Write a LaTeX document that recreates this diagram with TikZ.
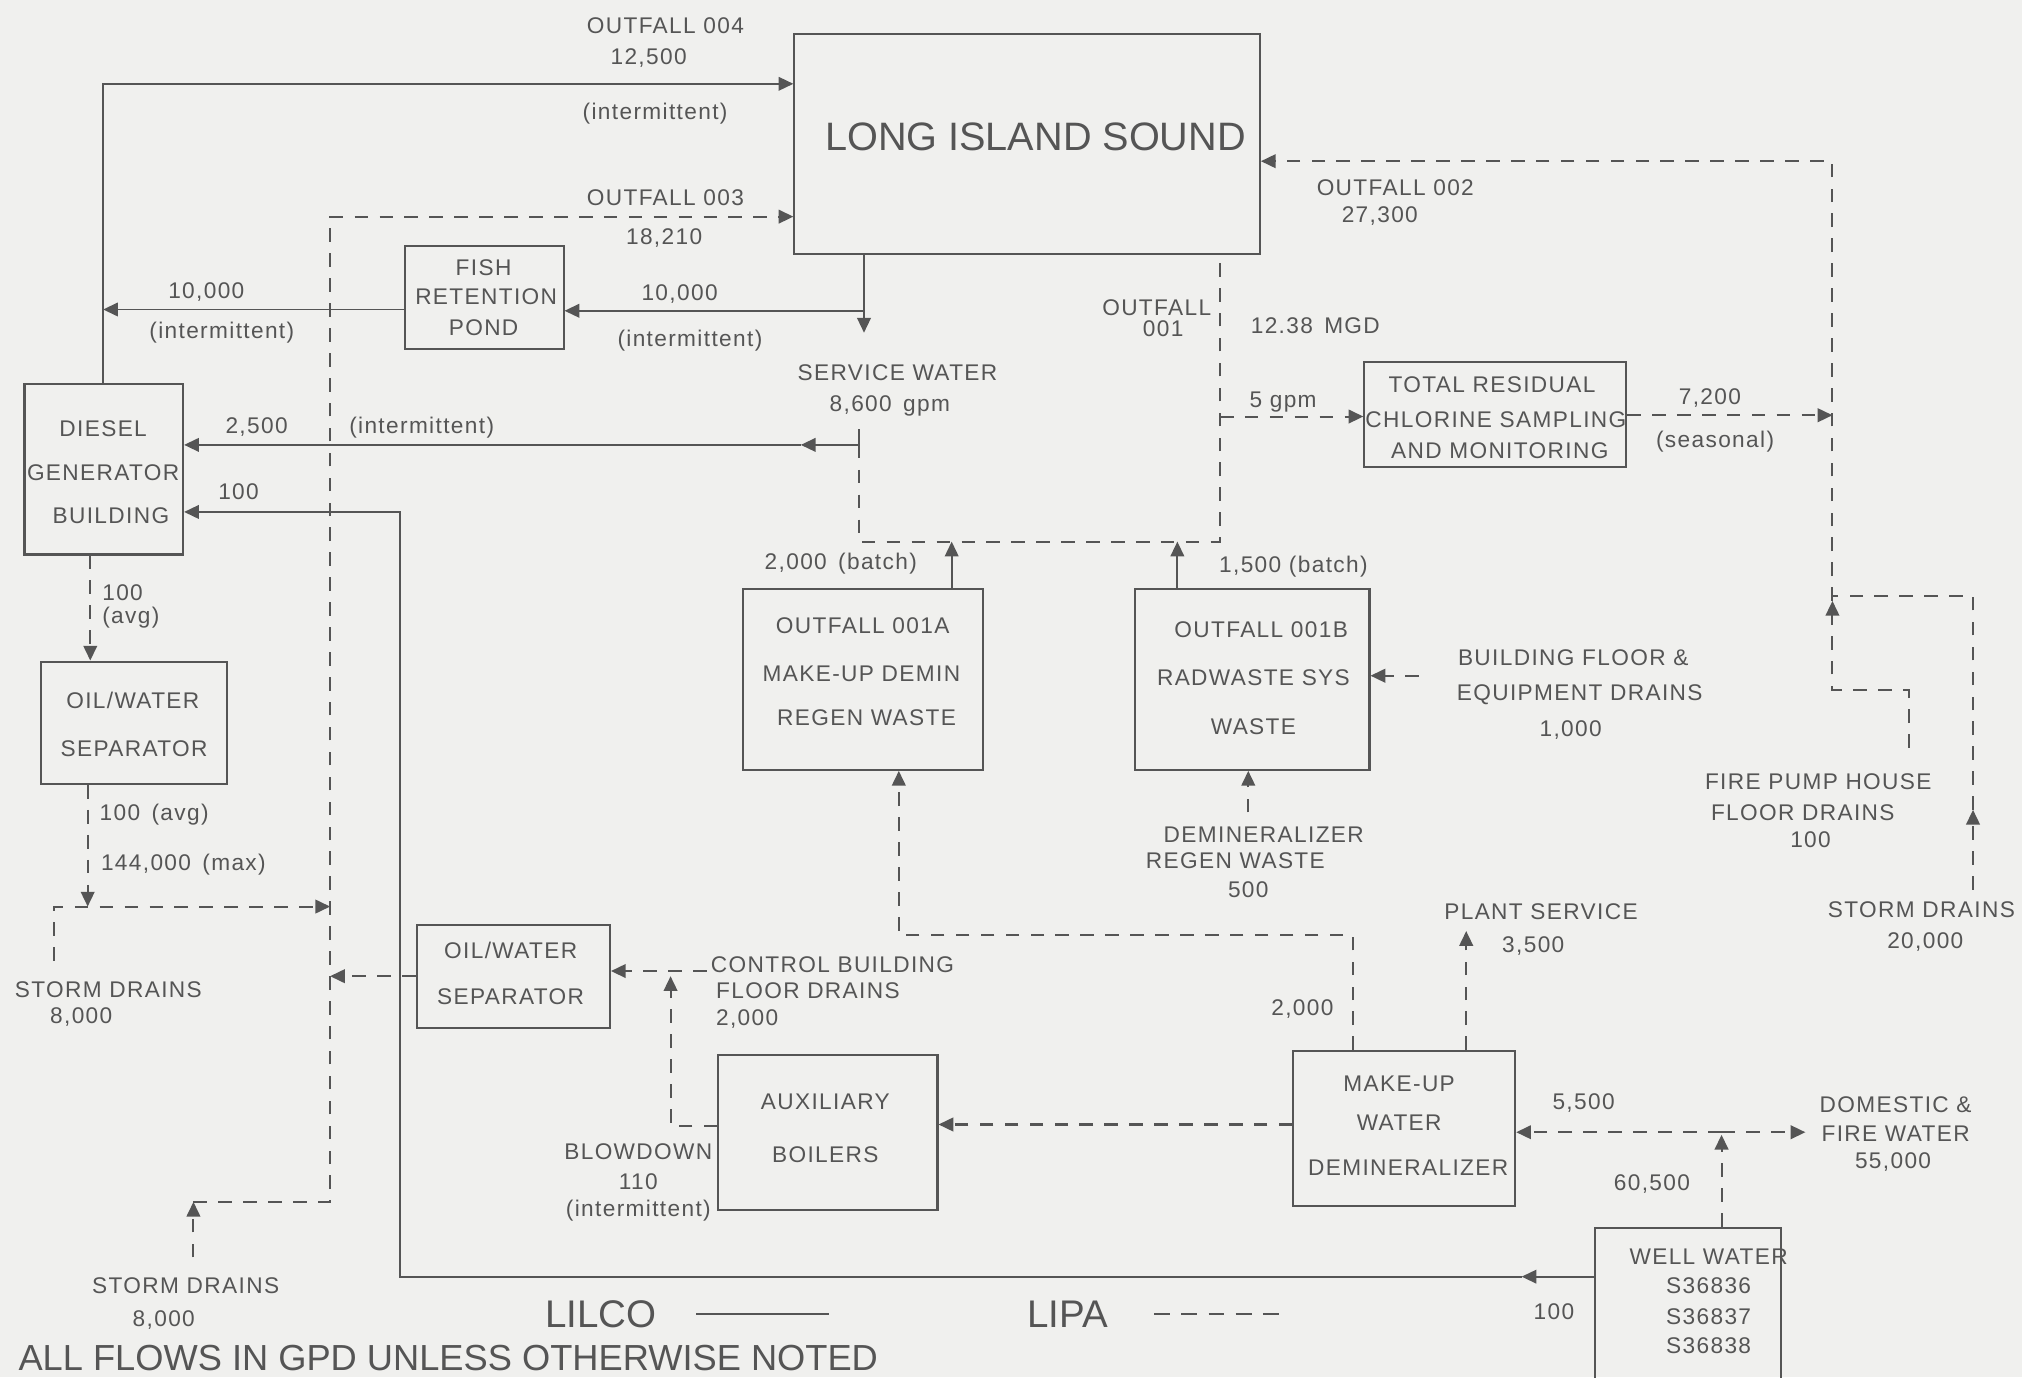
\documentclass[tikz,border=0pt]{standalone}
\usepackage{fontspec}
\setmainfont{Liberation Sans}[LetterSpace=6]
\newfontfamily\bigfont{Liberation Sans}
\usetikzlibrary{arrows.meta,fit}
\definecolor{bg}{RGB}{240,240,238}
\definecolor{ink}{RGB}{85,85,85}
\begin{document}
\begin{tikzpicture}[x=0.02cm,y=-0.02cm,
  box/.style={draw=ink, line width=0.9pt, inner sep=0pt},
  lbl/.style={text=ink, inner sep=0pt, anchor=center, font=\fontsize{10}{12}\selectfont, text height=7.2pt, text depth=0pt},
  lbw/.style={lbl, anchor=west},
  lilco/.style={draw=ink, line width=0.8pt},
  lipa/.style={draw=ink, line width=0.9pt, dash pattern=on 6pt off 5pt},
  arr/.style={-{Triangle[length=6.5pt,width=6pt]}},
  big/.style={text=ink, inner sep=0pt, font=\bigfont\fontsize{17}{20}\selectfont}]
\useasboundingbox (0,0) rectangle (1568,1068);
\fill[bg] (0,0) rectangle (1568,1068);
\clip (0,0) rectangle (1568,1068);

% ---------- boxes ----------
\node[box, fit={(616,26) (977,197)}] (lis) {};
\node[box, fit={(314,191) (437,271)}] (fish) {};
\node[box, fit={(19,298) (142,430)}] (diesel) {};
\node[box, fit={(32,513) (176,608)}] (ows1) {};
\node[box, fit={(1058,281) (1261,362)}] (trc) {};
\node[box, fit={(576,457) (762,597)}] (o1a) {};
\node[box, fit={(880,457) (1062,597)}] (o1b) {};
\node[box, fit={(323,717) (473,797)}] (ows2) {};
\node[box, fit={(557,818) (727,938)}] (aux) {};
\node[box, fit={(1003,815) (1175,935)}] (mud) {};
\node[box, fit={(1237,952) (1381,1080)}] (well) {};

% ---------- box texts ----------
\node[big, font=\bigfont\fontsize{17.5}{20}\selectfont, text height=12.5pt, text depth=0pt] (lisT) at (803,106) {LONG ISLAND SOUND};
\node[lbl] (fishA) at (375,207) {FISH};
\node[lbl] (fishB) at (377,230) {RETENTION};
\node[lbl] (fishC) at (375,254) {POND};
\node[lbl] (dgA) at (80,332) {DIESEL};
\node[lbl] (dgB) at (80,366) {GENERATOR};
\node[lbl] (dgC) at (86,400) {BUILDING};
\node[lbl] (ow1A) at (103,543) {OIL/WATER};
\node[lbl] (ow1B) at (104,580) {SEPARATOR};
\node[lbl] (trcA) at (1157,298) {TOTAL RESIDUAL};
\node[lbl] (trcB) at (1160,325) {CHLORINE SAMPLING};
\node[lbl] (trcC) at (1163,349) {AND MONITORING};
\node[lbl] (o1aA) at (669,485) {OUTFALL 001A};
\node[lbl] (o1aB) at (668,522) {MAKE-UP DEMIN};
\node[lbl] (o1aC) at (672,556) {REGEN WASTE};
\node[lbl] (o1bA) at (978,488) {OUTFALL 001B};
\node[lbl] (o1bB) at (972,525) {RADWASTE SYS};
\node[lbl] (o1bC) at (972,563) {WASTE};
\node[lbl] (ow2A) at (396,737) {OIL/WATER};
\node[lbl] (ow2B) at (396,773) {SEPARATOR};
\node[lbl] (auxA) at (640,854) {AUXILIARY};
\node[lbl] (auxB) at (640,895) {BOILERS};
\node[lbl] (mudA) at (1085,840) {MAKE-UP};
\node[lbl] (mudB) at (1085,870) {WATER};
\node[lbl] (mudC) at (1092,905) {DEMINERALIZER};
\node[lbl] (wwA) at (1325,974) {WELL WATER};
\node[lbl] (wwB) at (1325,997) {S36836};
\node[lbl] (wwC) at (1325,1021) {S36837};
\node[lbl] (wwD) at (1325,1043) {S36838};

% ---------- free ends / junctions ----------
\coordinate (sw) at (670,258);
\coordinate (j1) at (670,241);
\coordinate (j2) at (80,240);
\coordinate (sws) at (666,333);
\coordinate (swa) at (621,345);
\coordinate (swd) at (666,345);
\coordinate (wwa) at (1180,990);
\coordinate (c310) at (310,990);
\coordinate (h420a) at (738,420);
\coordinate (h420b) at (913,420);
\coordinate (sdb0) at (150,975);
\coordinate (sdb) at (150,932);
\coordinate (v256b) at (256,932);
\coordinate (sdl0) at (42,745);
\coordinate (v256m) at (256,703);
\coordinate (d703) at (68,703);
\coordinate (v256s) at (256,757);
\coordinate (cb) at (548,753);
\coordinate (bd) at (520,757);
\coordinate (o001) at (946,420);
\coordinate (g5) at (946,323);
\coordinate (v1421a) at (1421,322);
\coordinate (v1421b) at (1421,466);
\coordinate (fp0) at (1480,580);
\coordinate (fp1) at (1421,535);
\coordinate (sdr0) at (1530,690);
\coordinate (sdr1) at (1530,628);
\coordinate (sdr2) at (1421,462);
\coordinate (bfd) at (1100,524);
\coordinate (drw) at (968,630);
\coordinate (h725) at (697,725);
\coordinate (ps) at (1137,722);
\coordinate (wu) at (1335,880);
\coordinate (wj) at (1335,878);
\coordinate (dfw) at (1400,878);

% ---------- LILCO (solid) ----------
\draw[lilco,arr] (diesel.north -| 80,0) |- (lis.west |- 0,65);
\draw[lilco,arr] (lis.south -| 670,0) -- (sw);
\draw[lilco,arr] (j1) -- (fish.east |- j1);
\draw[lilco,arr] (fish.west |- j2) -- (j2);
\draw[lilco,arr] (sws) |- (swa);
\draw[lilco,arr] (swa) -- (diesel.east |- swa);
\draw[lilco,arr] (well.west |- wwa) -- (wwa);
\draw[lilco,arr] (wwa) -- (c310) |- (diesel.east |- 0,397);
\draw[lilco,arr] (o1a.north -| h420a) -- (h420a);
\draw[lilco,arr] (o1b.north -| h420b) -- (h420b);

% ---------- LIPA (dashed) ----------
\draw[lipa,arr] (sdb0) -- (sdb);
\draw[lipa,arr] (sdb) -- (v256b) |- (lis.west |- 0,168);
\draw[lipa,arr] (sdl0) |- (v256m);
\draw[lipa,arr] (ows1.south -| d703) -- (d703);
\draw[lipa,arr] (diesel.south -| 70,0) -- (ows1.north -| 70,0);
\draw[lipa,arr] (ows2.west |- v256s) -- (v256s);
\draw[lipa,arr] (cb) -- (ows2.east |- cb);
\draw[lipa,arr] (aux.west |- 0,873) -| (bd);
\draw[lipa] (swd) |- (o001) -- (lis.south -| o001);
\draw[lipa,arr] (g5) -- (trc.west |- g5);
\draw[lipa,arr] (trc.east |- v1421a) -- (v1421a);
\draw[lipa,arr] (v1421b) |- (lis.east |- 0,125);
\draw[lipa,arr] (fp0) |- (fp1) -- (v1421b);
\draw[lipa,arr] (sdr0) -- (sdr1);
\draw[lipa] (sdr1) |- (sdr2);
\draw[lipa,arr] (bfd) -- (o1b.east |- bfd);
\draw[lipa,arr] (drw) -- (o1b.south -| drw);
\draw[lipa,arr] (mud.north -| 1049,0) |- (h725) -- (o1a.south -| h725);
\draw[lipa,arr] (mud.north -| ps) -- (ps);
\draw[lipa,arr] (mud.west |- 0,872) -- (aux.east |- 0,872);
\draw[lipa,arr] (well.north -| wu) -- (wu);
\draw[lipa,arr] (wj) -- (mud.east |- wj);
\draw[lipa,arr] (wj) -- (dfw);

% ---------- flow labels ----------
\node[lbl] (l1) at (516,20) {OUTFALL 004};
\node[lbl] (l2) at (503,44) {12,500};
\node[lbl] (l3) at (508,86) {(intermittent)};
\node[lbl] (l4) at (516,153) {OUTFALL 003};
\node[lbl] (l5) at (515,183) {18,210};
\node[lbl] (l6) at (1082,145) {OUTFALL 002};
\node[lbl] (l7) at (1070,166) {27,300};
\node[lbl] (l8) at (160,225) {10,000};
\node[lbl] (l9) at (172,256) {(intermittent)};
\node[lbl] (l10) at (527,227) {10,000};
\node[lbl] (l11) at (535,262) {(intermittent)};
\node[lbl] (l12) at (897,238) {OUTFALL};
\node[lbl] (l13) at (902,255) {001};
\node[lbl] (l14) at (1020,252) {12.38\enspace MGD};
\node[lbl] (l15) at (696,289) {SERVICE WATER};
\node[lbl] (l16) at (690,313) {8,600\enspace gpm};
\node[lbl] (l17) at (995,310) {5 gpm};
\node[lbl] (l18) at (1326,307) {7,200};
\node[lbl] (l19) at (1330,341) {(seasonal)};
\node[lbl] (l20) at (199,330) {2,500};
\node[lbl] (l21) at (327,330) {(intermittent)};
\node[lbl] (l22) at (185,381) {100};
\node[lbl] (l23) at (652,435) {2,000\enspace (batch)};
\node[lbl] (l24) at (1003,438) {1,500 (batch)};
\node[lbl] (l25) at (1220,510) {BUILDING FLOOR \&};
\node[lbl] (l26) at (1225,537) {EQUIPMENT DRAINS};
\node[lbl] (l27) at (1218,565) {1,000};
\node[lbw] (l28) at (79,459) {100};
\node[lbw] (l29) at (79,477) {(avg)};
\node[lbw] (l30) at (77,630) {100\enspace (avg)};
\node[lbw] (l31) at (78,669) {144,000\enspace (max)};
\node[lbl] (l32) at (84,767) {STORM DRAINS};
\node[lbl] (l33) at (63,787) {8,000};
\node[lbl] (l34) at (1410,606) {FIRE PUMP HOUSE};
\node[lbl] (l35) at (1398,630) {FLOOR DRAINS};
\node[lbl] (l36) at (1404,651) {100};
\node[lbl] (l37) at (980,647) {DEMINERALIZER};
\node[lbl] (l38) at (958,667) {REGEN WASTE};
\node[lbl] (l39) at (968,690) {500};
\node[lbl] (l40) at (1490,705) {STORM DRAINS};
\node[lbl] (l41) at (1493,729) {20,000};
\node[lbl] (l42) at (1195,707) {PLANT SERVICE};
\node[lbl] (l43) at (1189,732) {3,500};
\node[lbw] (l44) at (551,748) {CONTROL BUILDING};
\node[lbw] (l45) at (555,768) {FLOOR DRAINS};
\node[lbw] (l46) at (555,789) {2,000};
\node[lbl] (l47) at (1010,781) {2,000};
\node[lbl] (l48) at (495,893) {BLOWDOWN};
\node[lbl] (l49) at (495,916) {110};
\node[lbl] (l50) at (495,937) {(intermittent)};
\node[lbl] (l51) at (1228,854) {5,500};
\node[lbl] (l52) at (1470,856) {DOMESTIC \&};
\node[lbl] (l53) at (1470,879) {FIRE WATER};
\node[lbl] (l54) at (1468,900) {55,000};
\node[lbl] (l55) at (1281,917) {60,500};
\node[lbl] (l56) at (144,997) {STORM DRAINS};
\node[lbl] (l57) at (127,1022) {8,000};
\node[lbl] (l58) at (1205,1017) {100};

% ---------- legend ----------
\node[big, text height=12.2pt, text depth=0pt] (lilcoT) at (466,1019) {LILCO};
\coordinate (lg1) at (540,1019);
\coordinate (lg2) at (643,1019);
\draw[lilco] (lg1) -- (lg2);
\node[big, text height=12.2pt, text depth=0pt] (lipaT) at (828,1019) {LIPA};
\coordinate (lg3) at (895,1019);
\coordinate (lg4) at (995,1019);
\draw[lipa, dash pattern=on 7pt off 5pt] (lg3) -- (lg4);
\node[big, font=\bigfont\fontsize{16}{20}\selectfont, anchor=base west] (note) at (14,1063) {ALL FLOWS IN GPD UNLESS OTHERWISE NOTED};
\end{tikzpicture}
\end{document}
